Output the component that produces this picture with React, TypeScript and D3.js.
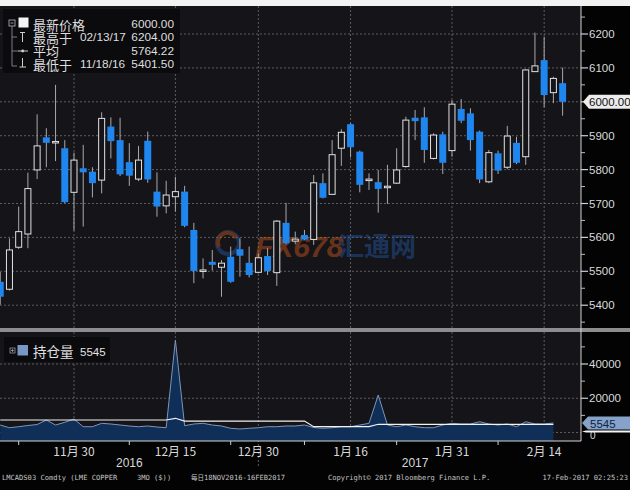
import React from "react";
import * as d3 from "d3";

// trading days, LME 3M copper, 18 Nov 2016 - 16 Feb 2017
const dates = [
  "11/18", "11/21", "11/22", "11/23", "11/24", "11/25",
  "11/28", "11/29", "11/30", "12/01", "12/02",
  "12/05", "12/06", "12/07", "12/08", "12/09",
  "12/12", "12/13", "12/14", "12/15", "12/16",
  "12/19", "12/20", "12/21", "12/22", "12/23",
  "12/28", "12/29", "12/30",
  "01/03", "01/04", "01/05", "01/06",
  "01/09", "01/10", "01/11", "01/12", "01/13",
  "01/16", "01/17", "01/18", "01/19", "01/20",
  "01/23", "01/24", "01/25", "01/26", "01/27",
  "01/30", "01/31", "02/01", "02/02", "02/03",
  "02/06", "02/07", "02/08", "02/09", "02/10",
  "02/13", "02/14", "02/15", "02/16",
];

const opens = [
  5469, 5447, 5571, 5610, 5799, 5895, 5881, 5863, 5733, 5804, 5794,
  5769, 5927, 5887, 5822, 5772, 5885, 5735, 5693, 5720, 5735,
  5622, 5500, 5528, 5512, 5543, 5565, 5525, 5497, 5545, 5496,
  5643, 5589, 5607, 5594, 5760, 5727, 5863, 5934, 5853, 5770,
  5763, 5748, 5760, 5809, 5953, 5954, 5833, 5904, 5856, 5979,
  5966, 5912, 5764, 5848, 5807, 5879, 5838, 6089, 6123, 6027, 6055,
];
const highs = [
  5498, 5597, 5691, 5791, 5963, 5922, 6050, 5887, 5850, 5873, 5807,
  5969, 5954, 5953, 5878, 5870, 5912, 5792, 5767, 5779, 5752,
  5643, 5538, 5563, 5533, 5573, 5597, 5573, 5553, 5568, 5651,
  5702, 5617, 5622, 5784, 5789, 5887, 5919, 5937, 5856, 5789,
  5799, 5814, 5863, 5956, 5976, 5984, 5907, 5912, 6005, 6008,
  5981, 5915, 5858, 5856, 5929, 5897, 6096, 6204, 6192, 6074, 6101,
];
const lows = [
  5401.5, 5443, 5566, 5568, 5772, 5807, 5825, 5701, 5620, 5632, 5718,
  5730, 5833, 5781, 5752, 5766, 5761, 5661, 5671, 5676, 5630,
  5465, 5479, 5502, 5425, 5466, 5484, 5482, 5494, 5489, 5457,
  5580, 5580, 5592, 5578, 5715, 5725, 5811, 5836, 5733, 5740,
  5673, 5699, 5758, 5806, 5887, 5820, 5830, 5787, 5838, 5937,
  5856, 5760, 5760, 5787, 5801, 5816, 5814, 6088, 5984, 5996, 5959,
];
const closes = [
  5425, 5563, 5617, 5744, 5870, 5879, 5883, 5704, 5828, 5792, 5760,
  5951, 5884, 5786, 5782, 5828, 5771, 5691, 5725, 5735, 5634,
  5501, 5504, 5519, 5524, 5469, 5546, 5489, 5540, 5501, 5648,
  5583, 5595, 5594, 5761, 5717, 5844, 5910, 5866, 5755, 5772,
  5743, 5751, 5799, 5946, 5943, 5858, 5902, 5820, 5993, 5944,
  5887, 5771, 5850, 5797, 5899, 5820, 6094, 6106, 6020, 6069, 6000,
];

// open interest (持仓量) and its white average line
const openInterest: (number | null)[] = [
  4370, 2800, 3380, 4080, 4660, 7290, 4370, 5950, 7870, 3380, 3380,
  5360, 4960, 4370, 3790, 3380, 3790, 3200, 2800, 53900, 3970,
  4960, 5360, 4370, 3790, 2450, 2040, 2450, 2800, 3380, 3380,
  3790, 3790, 4370, 2900, 2450, 2800, 3380, 3380, 4370, 5360,
  21900, 4370, 3380, 4370, 3380, 2800, 2800, 4370, 5360, 4960,
  4960, 6300, 4960, 4370, 4960, 3380, 6300, 4960, 4960, 5545, null,
];
const oiAverage: (number | null)[] = [
  7300, 7300, 7300, 7300, 7300, 7300, 7300, 7300, 7300, 7300, 7300,
  7300, 7300, 7300, 7300, 7300, 7300, 7300, 7300, 8300, 6700,
  6700, 6700, 6700, 6700, 6700, 6700, 6700, 6700, 6700, 6700,
  6700, 6700, 6700, 3400, 3400, 3400, 3400, 3400, 3400, 3400,
  4800, 4800, 4800, 4800, 4800, 4800, 4800, 4800, 4800, 4800,
  4800, 4800, 4800, 4800, 4800, 4800, 4800, 4800, 4800, 4800, null,
];

const priceTicks = [5400, 5500, 5600, 5700, 5800, 5900, 6000, 6100, 6200];
const priceMinor = [5350, 5450, 5550, 5650, 5750, 5850, 5950, 6050, 6150, 6250];
const oiTicks = [20000, 40000];
const oiMinor = [10000, 30000, 50000];
const oiGrid = [0, 20000, 40000];

const labelDates = ["11/30", "12/15", "12/30", "01/16", "01/31", "02/14"];
const labelTexts = ["11月 30", "12月 15", "12月 30", "1月 16", "1月 31", "2月 14"];
const minorTickDates = ["11/22", "12/08", "12/23", "01/09", "01/23", "02/07"];
const years = ["2016", "2017"];
const yearCenters = ["12/08", "01/25"];
const yearDivider = "12/30";

const legendLabels = ["最新价格", "最高于", "平均", "最低于"];
const legendDates = ["", "02/13/17", "", "11/18/16"];
const legendValues = ["6000.00", "6204.00", "5764.22", "5401.50"];
const lastPrice = 6000;
const lastOI = 5545;

const W = 630;
const H = 490;
const RIGHT = 581;
const TOP = 6;
const SEP = 328;
const BOTTOM = 441;

const BG = "#141419";
const GRID = "#5c5c62";
const BLUE = "#1e86ee";
const SANS = "'Liberation Sans', 'Noto Sans CJK SC', sans-serif";
const CJK = "'Noto Sans CJK SC', 'Liberation Sans', sans-serif";
const MONO = "'DejaVu Sans Mono', monospace";

export default function App() {
  const x = d3.scaleLinear().domain([0, dates.length - 1]).range([0.24, 562.6]);
  const xd = (d: string) => x(dates.indexOf(d));
  const yP = d3.scaleLinear().domain([5400, 6200]).range([305.2, 34]);
  const yO = d3.scaleLinear().domain([0, 40000]).range([432.5, 364]);

  const area = d3
    .area<number | null>()
    .defined(v => v != null)
    .x((_, i) => x(i))
    .y0(BOTTOM)
    .y1(v => yO(v as number));
  const line = d3
    .line<number | null>()
    .defined(v => v != null)
    .x((_, i) => x(i))
    .y(v => yO(v as number));

  const bw = 7;
  const lastY = yP(lastPrice);
  const oiY = yO(lastOI);
  const zeroY = yO(0);

  return (
    <svg
      width={W}
      height={H}
      style={{ position: "absolute", left: 0, top: 0, display: "block" }}
    >
      <defs>
        <clipPath id="top-clip">
          <rect x={0} y={TOP} width={RIGHT} height={SEP - TOP} />
        </clipPath>
        <clipPath id="bot-clip">
          <rect x={0} y={SEP} width={RIGHT} height={BOTTOM - SEP} />
        </clipPath>
      </defs>

      <rect x={0} y={0} width={W} height={H} fill="#030303" />
      <rect x={0} y={0} width={W} height={TOP} fill="#f2f2f2" />
      <rect x={0} y={TOP} width={RIGHT} height={BOTTOM - TOP} fill={BG} />

      {/* grid, top panel */}
      {priceTicks.map(t => (
        <line key={t} x1={0} x2={RIGHT} y1={yP(t)} y2={yP(t)}
          stroke={GRID} strokeDasharray="2,2" />
      ))}
      {labelDates.map(d => (
        <line key={d} x1={xd(d)} x2={xd(d)} y1={TOP} y2={SEP}
          stroke={GRID} strokeDasharray="2,2" />
      ))}

      {/* watermark */}
      <g opacity={0.4}>
        <circle cx={228} cy={243} r={11} fill="none" stroke="#2a63b8" strokeWidth={4} />
        <path d="M219,247 A9,9 0 0,1 236,238" fill="none" stroke="#e0621c" strokeWidth={4} />
        <text x={255} y={257} fontFamily={SANS} fontSize={30} fontWeight="bold"
          fontStyle="italic" fill="#e0621c">FX678</text>
        <text x={338} y={256} fontFamily={CJK} fontSize={26} fontWeight="bold"
          fill="#2a63b8">汇通网</text>
      </g>

      {/* candles */}
      <g clipPath="url(#top-clip)">
        {dates.map((d, i) => {
          const up = closes[i] >= opens[i];
          const top = yP(Math.max(opens[i], closes[i]));
          const bot = yP(Math.min(opens[i], closes[i]));
          const h = Math.max(bot - top, 1.5);
          return (
            <g key={d}>
              <line x1={x(i)} x2={x(i)} y1={yP(highs[i])} y2={yP(lows[i])}
                stroke="#a9a9ad" strokeWidth={1} />
              {up ? (
                <rect x={x(i) - bw / 2 + 0.5} y={top} width={bw - 1} height={h}
                  fill={BG} stroke="#e2e2e2" strokeWidth={1} />
              ) : (
                <rect x={x(i) - bw / 2} y={top} width={bw} height={h} fill={BLUE} />
              )}
            </g>
          );
        })}
      </g>

      {/* legend, top panel */}
      <rect x={3} y={9} width={177} height={64} fill="#0b0b0e" />
      <rect x={9} y={20} width={6} height={6} fill="none" stroke="#bbb" strokeWidth={0.8} />
      <line x1={10.5} x2={13.5} y1={23} y2={23} stroke="#bbb" strokeWidth={0.8} />
      <rect x={18.5} y={17.5} width={10} height={10} fill="#f4f4f4" />
      <path d="M12,26 V66 M12,37 H17 M12,51 H17 M12,66 H17" fill="none" stroke="#9a9a9a" strokeWidth={0.8} />
      <path d="M20,32.5 H25 M22.5,32.5 V42" fill="none" stroke="#cfcfcf" strokeWidth={1} />
      <path d="M17.5,51 H28" fill="none" stroke="#cfcfcf" strokeWidth={1} />
      <circle cx={22.7} cy={51} r={1.4} fill="#cfcfcf" />
      <path d="M22.5,58 V67 M19.5,67 H26" fill="none" stroke="#cfcfcf" strokeWidth={1} />
      {legendLabels.map((l, i) => {
        const cy = 24 + i * 13.4;
        return (
          <g key={l} fill="#dedede">
            <text x={33} y={cy} dominantBaseline="central" fontFamily={CJK} fontSize={13}>{l}</text>
            <text x={80} y={cy} dominantBaseline="central" fontFamily={SANS} fontSize={11.8}>{legendDates[i]}</text>
            <text x={174} y={cy} dominantBaseline="central" textAnchor="end" fontFamily={SANS} fontSize={11.8}>{legendValues[i]}</text>
          </g>
        );
      })}

      {/* separator */}
      <rect x={0} y={SEP} width={W} height={4} fill="#8d8d8f" />

      {/* bottom panel */}
      {oiGrid.map(t => (
        <line key={t} x1={0} x2={RIGHT} y1={yO(t)} y2={yO(t)}
          stroke={GRID} strokeDasharray="2,2" />
      ))}
      {labelDates.map(d => (
        <line key={d} x1={xd(d)} x2={xd(d)} y1={SEP + 4}
          y2={d === yearDivider ? 468 : BOTTOM}
          stroke={GRID} strokeDasharray="2,2" />
      ))}
      <g clipPath="url(#bot-clip)">
        <path d={area(openInterest) ?? ""} fill="#0f2e58" />
        <path d={line(openInterest) ?? ""} fill="none" stroke="#7f95b6" strokeWidth={1} />
        <path d={line(oiAverage) ?? ""} fill="none" stroke="#f2f2f2" strokeWidth={1.2} />
      </g>
      <rect x={4} y={337} width={106} height={25} fill="#0b0b0e" />
      <rect x={10} y={348} width={5} height={5} fill="none" stroke="#aaa" strokeWidth={0.7} />
      <path d="M11,350.5 H14 M12.5,349 V352" stroke="#aaa" strokeWidth={0.7} />
      <rect x={17.5} y={345} width={10.5} height={10.5} fill="#7897c4" />
      <text x={33} y={351} dominantBaseline="central" fontFamily={CJK} fontSize={13.5} fill="#e2e2e2">持仓量</text>
      <text x={80} y={351.5} dominantBaseline="central" fontFamily={SANS} fontSize={11.5} fill="#e2e2e2">{lastOI}</text>

      {/* panel borders and right axis */}
      <line x1={0} x2={RIGHT} y1={BOTTOM} y2={BOTTOM} stroke="#d4d4d4" strokeWidth={1} />
      <line x1={RIGHT} x2={RIGHT} y1={TOP} y2={BOTTOM} stroke="#d4d4d4" strokeWidth={1} />
      {priceMinor.map(t => (
        <line key={t} x1={RIGHT} x2={RIGHT + 4} y1={yP(t)} y2={yP(t)} stroke="#bbb" />
      ))}
      {priceTicks.map(t => (
        <g key={t}>
          <path d={`M${RIGHT},${yP(t)} H${RIGHT + 5} L${RIGHT + 7},${yP(t)}`} stroke="#cfcfcf" strokeWidth={1.2} />
          {t !== lastPrice && (
            <text x={589} y={yP(t)} dominantBaseline="central" fontFamily={SANS}
              fontSize={11.5} fill="#dadada">{t}</text>
          )}
        </g>
      ))}
      {oiMinor.map(t => (
        <line key={t} x1={RIGHT} x2={RIGHT + 4} y1={yO(t)} y2={yO(t)} stroke="#bbb" />
      ))}
      {oiTicks.map(t => (
        <g key={t}>
          <path d={`M${RIGHT},${yO(t)} H${RIGHT + 7}`} stroke="#cfcfcf" strokeWidth={1.2} />
          <text x={589} y={yO(t)} dominantBaseline="central" fontFamily={SANS}
            fontSize={11.5} fill="#dadada">{t}</text>
        </g>
      ))}
      <text x={590} y={zeroY + 3} dominantBaseline="central" fontFamily={SANS}
        fontSize={10} fill="#dadada">0</text>

      {/* last-value tags */}
      <polygon
        points={`583,${lastY} 589,${lastY - 7} 630,${lastY - 7} 630,${lastY + 7} 589,${lastY + 7}`}
        fill="#ececec" />
      <text x={589} y={lastY + 0.5} dominantBaseline="central" fontFamily={SANS}
        fontSize={11.5} fill="#111">{lastPrice.toFixed(2)}</text>
      <polygon
        points={`582,${oiY} 588,${oiY - 6.5} 630,${oiY - 6.5} 630,${oiY + 6.5} 588,${oiY + 6.5}`}
        fill="#86a2c9" />
      <text x={590} y={oiY + 0.5} dominantBaseline="central" fontFamily={SANS}
        fontSize={11.5} fill="#0d2342">{lastOI}</text>
      <polygon
        points={`582,${zeroY - 1} 586,${zeroY - 2} 630,${zeroY - 2} 630,${zeroY} 586,${zeroY}`}
        fill="#f4f4f4" />

      {/* bottom axis */}
      {minorTickDates.map(d => (
        <line key={d} x1={xd(d)} x2={xd(d)} y1={BOTTOM} y2={BOTTOM + 4} stroke="#cfcfcf" />
      ))}
      {labelDates.map((d, i) => (
        <text key={d} x={xd(d)} y={450} textAnchor="middle" dominantBaseline="central"
          fontFamily={CJK} fontSize={12} fill="#d8d8d8">{labelTexts[i]}</text>
      ))}
      {years.map((yr, i) => (
        <text key={yr} x={xd(yearCenters[i])} y={463} textAnchor="middle" dominantBaseline="central"
          fontFamily={SANS} fontSize={12} fill="#d8d8d8">{yr}</text>
      ))}

      {/* footer */}
      <g fontFamily={MONO} fontSize={7.1} fill="#c4c4c4">
        <text x={2} y={477} dominantBaseline="central">LMCADS03 Comdty (LME COPPER</text>
        <text x={137} y={477} dominantBaseline="central">3MO ($))</text>
        <text x={191} y={477} dominantBaseline="central" fontFamily={CJK} fontSize={6.5}>每日</text>
        <text x={204} y={477} dominantBaseline="central">18NOV2016-16FEB2017</text>
        <text x={328} y={477} dominantBaseline="central">Copyright© 2017 Bloomberg Finance L.P.</text>
        <text x={628} y={477} dominantBaseline="central" textAnchor="end">17-Feb-2017 02:25:23</text>
      </g>
    </svg>
  );
}
